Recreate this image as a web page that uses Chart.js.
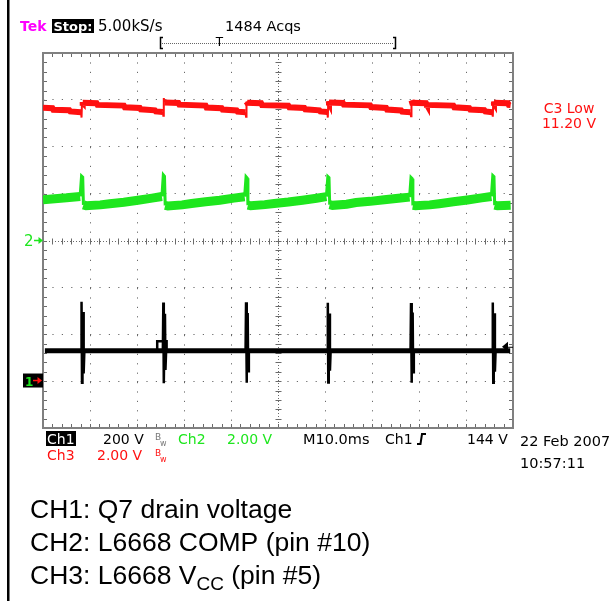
<!DOCTYPE html>
<html><head><meta charset="utf-8">
<script src="https://cdn.jsdelivr.net/npm/chart.js@4.4.1/dist/chart.umd.min.js"></script>
<style>html,body{margin:0;padding:0;background:#fff;}canvas{display:block;}</style>
</head><body>
<canvas id="c" width="611" height="601"></canvas>
<script>
// ---------------- DATA (time in ms, values in volts) ----------------
const ch1BaseTime  = [0.4, 99.4];
const ch1BaseVolts = [127, 127];

const ch1SpikeTime  = [8.1, 8.2, 8.3, 8.4, 8.55, 8.65, 8.8, 8.8,
                       24.3, 24.3, 26.3, 26.3, 26.3,
                       25.5, 25.6, 25.7, 25.8, 25.95, 26.05, 26.2, 26.2,
                       43.1, 43.2, 43.3, 43.4, 43.55, 43.65, 43.8, 43.8,
                       60.5, 60.6, 60.7, 60.8, 60.95, 61.05, 61.2, 61.2,
                       78.2, 78.3, 78.4, 78.5, 78.65, 78.75, 78.9, 78.9,
                       95.6, 95.7, 95.8, 95.9, 96.05, 96.15, 96.3];
const ch1SpikeVolts = [127, 336, -9, 127, 292, 30, 127, null,
                       127, 168, 168, 127, null,
                       127, 333, -12, 127, 285, 45, 127, null,
                       127, 334, -10, 127, 288, 40, 127, null,
                       127, 332, -8, 127, 286, 42, 127, null,
                       127, 331, -9, 127, 290, 35, 127, null,
                       127, 333, -10, 127, 287, 38, 127];

const ch2Time  = [0, 2.5, 5, 7.9, 8.2, 8.45, 8.6, 9.2, 12.2, 14.2, 17.2, 20.2, 23.2, 25.3,
                  25.6, 25.85, 26.0, 26.6, 29.6, 31.6, 34.6, 37.6, 40.6, 42.9,
                  43.2, 43.45, 43.6, 44.2, 47.2, 49.2, 52.2, 55.2, 58.2, 60.3,
                  60.6, 60.85, 61.0, 61.6, 64.6, 66.6, 69.6, 72.6, 75.6, 78.0,
                  78.3, 78.55, 78.7, 79.3, 82.3, 84.3, 87.3, 90.3, 93.3, 95.4,
                  95.7, 95.95, 96.1, 96.7, 99.5];
const ch2Volts = [1.74, 1.78, 1.82, 1.88, 2.75, 2.70, 1.52, 1.48, 1.52, 1.57, 1.63, 1.72, 1.81, 1.88,
                  2.80, 2.74, 1.50, 1.47, 1.52, 1.58, 1.65, 1.72, 1.81, 1.87,
                  2.72, 2.66, 1.51, 1.48, 1.53, 1.58, 1.64, 1.72, 1.80, 1.87,
                  2.73, 2.68, 1.53, 1.50, 1.55, 1.62, 1.67, 1.74, 1.80, 1.85,
                  2.69, 2.64, 1.50, 1.48, 1.52, 1.57, 1.65, 1.73, 1.82, 1.88,
                  2.77, 2.72, 1.51, 1.48, 1.50];

const ch3Time  = [0, 2.0, 2.2, 5.6, 5.8, 8.1,
                  8.2, 8.3, 8.45, 11.4, 11.6, 17.2, 17.4, 20.6, 20.8, 23.8, 24.0, 25.5,
                  25.6, 25.7, 25.85, 28.8, 29.0, 34.6, 34.8, 38.0, 38.2, 41.2, 41.4, 43.1,
                  43.2, 43.3, 43.45, 46.4, 46.6, 52.2, 52.4, 55.6, 55.8, 58.8, 59.0, 60.5,
                  60.6, 60.7, 60.85, 63.8, 64.0, 69.6, 69.8, 73.0, 73.2, 76.2, 76.4, 78.2,
                  78.3, 78.4, 78.55, 81.5, 81.7, 87.3, 87.5, 90.7, 90.9, 93.9, 94.1, 95.6,
                  95.7, 95.8, 95.95, 98.9, 99.1, 99.5];
const ch3Volts = [11.64, 11.62, 11.55, 11.53, 11.48, 11.45,
                  11.22, 11.88, 11.85, 11.83, 11.76, 11.73, 11.66, 11.63, 11.57, 11.53, 11.48, 11.46,
                  11.30, 12.05, 11.86, 11.84, 11.77, 11.73, 11.65, 11.62, 11.56, 11.52, 11.47, 11.45,
                  11.25, 11.90, 11.85, 11.83, 11.75, 11.72, 11.66, 11.63, 11.57, 11.53, 11.48, 11.46,
                  11.22, 11.92, 11.86, 11.84, 11.77, 11.74, 11.67, 11.63, 11.56, 11.52, 11.47, 11.45,
                  11.28, 11.95, 11.85, 11.83, 11.76, 11.73, 11.66, 11.62, 11.56, 11.53, 11.48, 11.45,
                  11.26, 11.90, 11.85, 11.83, 11.76, 11.75];

const captions = ['CH1: Q7 drain voltage', 'CH2: L6668 COMP (pin #10)'];

// ---------------- scope settings ----------------
const DIVS_X = 10, DIVS_Y = 8, MS_PER_DIV = 10;
const ch1 = {vpd: 200, gnd: -2.987};
const ch2 = {vpd: 2, gnd: 0};
const ch3 = {vpd: 2, gnd: -2.987};
const trigLevel = 144;
function axisFor(ch) { return {type: 'linear', display: false, min: (-DIVS_Y/2 - ch.gnd) * ch.vpd, max: (DIVS_Y/2 - ch.gnd) * ch.vpd}; }
const pts = (t, v) => t.map((x, i) => ({x: x, y: v[i]}));

const RED = '#ff1010', GREEN = '#1ee61e', MAG = '#ff00ff';
const SF = '"DejaVu Sans", "Liberation Sans", sans-serif';
const CF = '"Liberation Sans", Arial, Helvetica, sans-serif';

const gridCol = (n) => (c) => (c.index === 0 || c.index === n || c.index === n / 2) ? 'rgba(0,0,0,0)' : '#6a6a6a';

const decor = {
  id: 'decor',
  beforeDatasetsDraw(chart) {
    const {ctx, chartArea: a, scales} = chart;
    const xs = scales.x, ys = scales.yg;
    const px = v => Math.round(xs.getPixelForValue(v)) + 0.5;
    const py = v => Math.round(ys.getPixelForValue(v)) + 0.5;
    ctx.save();
    ctx.strokeStyle = '#6a6a6a'; ctx.lineWidth = 1;
    const cx = px(DIVS_X * MS_PER_DIV / 2), cy = py(0);
    ctx.setLineDash([1, 2]);
    ctx.beginPath(); ctx.moveTo(a.left, cy); ctx.lineTo(a.right, cy); ctx.moveTo(cx, a.top); ctx.lineTo(cx, a.bottom); ctx.stroke();
    ctx.setLineDash([]);
    ctx.beginPath();
    for (let i = 1; i < DIVS_X * 5; i++) {
      const x = px(i * MS_PER_DIV / 5);
      ctx.moveTo(x, cy - 3); ctx.lineTo(x, cy + 3);
      ctx.moveTo(x, a.top); ctx.lineTo(x, a.top + 4);
      ctx.moveTo(x, a.bottom); ctx.lineTo(x, a.bottom - 4);
    }
    for (let j = 1; j < DIVS_Y * 5; j++) {
      const y = py(-DIVS_Y / 2 + j / 5);
      ctx.moveTo(cx - 3, y); ctx.lineTo(cx + 3, y);
      ctx.moveTo(a.left, y); ctx.lineTo(a.left + 4, y);
      ctx.moveTo(a.right, y); ctx.lineTo(a.right - 4, y);
    }
    ctx.stroke();
    ctx.strokeStyle = '#808080'; ctx.lineWidth = 2;
    ctx.strokeRect(a.left, a.top, a.right - a.left, a.bottom - a.top);
    ctx.restore();
  },
  afterDraw(chart) {
    const {ctx, chartArea: a, scales} = chart;
    ctx.save();
    const T = (s, x, y, col, font, align) => { ctx.font = font; ctx.fillStyle = col; ctx.textAlign = align || 'left'; ctx.textBaseline = 'alphabetic'; ctx.fillText(s, x, y); };
    // left frame line
    ctx.fillStyle = '#000'; ctx.fillRect(7, 0, 2.5, 601);
    // top status line
    T('Tek', 20, 31, MAG, 'bold 14px ' + SF);
    ctx.fillStyle = '#000'; ctx.fillRect(52, 19, 42, 14);
    T('Stop:', 53.5, 31, '#fff', 'bold 13px ' + SF);
    T('5.00kS/s', 98, 31, '#000', '15px ' + SF);
    T('1484 Acqs', 225, 31, '#000', '14.5px ' + SF);
    // record view bar
    ctx.strokeStyle = '#000'; ctx.lineWidth = 1.5;
    ctx.beginPath();
    ctx.moveTo(163, 37.5); ctx.lineTo(160.5, 37.5); ctx.lineTo(160.5, 48.5); ctx.lineTo(163, 48.5);
    ctx.moveTo(393, 37.5); ctx.lineTo(395.5, 37.5); ctx.lineTo(395.5, 48.5); ctx.lineTo(393, 48.5);
    ctx.stroke();
    ctx.strokeStyle = '#666'; ctx.lineWidth = 1; ctx.setLineDash([1, 1]);
    ctx.beginPath(); ctx.moveTo(162, 43.5); ctx.lineTo(394, 43.5); ctx.stroke(); ctx.setLineDash([]);
    T('T', 219.5, 46, '#000', '12px ' + SF, 'center');
    // channel markers
    const g2 = scales.y2.getPixelForValue(0);
    T('2', 24, g2 + 5.5, GREEN, '15px ' + SF);
    ctx.strokeStyle = GREEN; ctx.fillStyle = GREEN; ctx.lineWidth = 1.5;
    ctx.beginPath(); ctx.moveTo(34, g2); ctx.lineTo(41, g2); ctx.stroke();
    ctx.beginPath(); ctx.moveTo(43, g2); ctx.lineTo(38.5, g2 - 3.5); ctx.lineTo(38.5, g2 + 3.5); ctx.closePath(); ctx.fill();
    const g1 = scales.y1.getPixelForValue(0);
    ctx.fillStyle = '#000'; ctx.fillRect(23, g1 - 7, 20, 14);
    T('1', 25, g1 + 5, GREEN, 'bold 12px ' + SF);
    ctx.strokeStyle = RED; ctx.fillStyle = RED; ctx.lineWidth = 1.5;
    ctx.beginPath(); ctx.moveTo(33, g1); ctx.lineTo(39, g1); ctx.stroke();
    ctx.beginPath(); ctx.moveTo(42, g1); ctx.lineTo(37.5, g1 - 3.5); ctx.lineTo(37.5, g1 + 3.5); ctx.closePath(); ctx.fill();
    // trigger level arrow
    const tl = scales.y1.getPixelForValue(trigLevel);
    ctx.fillStyle = '#000'; ctx.strokeStyle = '#000'; ctx.lineWidth = 1;
    ctx.beginPath(); ctx.moveTo(502, tl); ctx.lineTo(508, tl - 5); ctx.lineTo(508, tl + 5); ctx.closePath(); ctx.fill();
    ctx.beginPath(); ctx.moveTo(507, tl + 0.5); ctx.lineTo(a.right, tl + 0.5); ctx.stroke();
    // right readout
    T('C3 Low', 569, 113, RED, '14px ' + SF, 'center');
    T('11.20 V', 569, 128, RED, '14px ' + SF, 'center');
    // bottom readouts
    ctx.fillStyle = '#000'; ctx.fillRect(46, 431, 30, 15);
    T('Ch1', 47, 444, '#fff', '14px ' + SF);
    T('200 V', 103, 444, '#000', '14px ' + SF);
    T('B', 155, 440, '#777', '9px ' + SF); T('w', 160, 446, '#777', '8px ' + SF);
    T('Ch2', 178, 444, GREEN, '14px ' + SF);
    T('2.00 V', 227, 444, GREEN, '14px ' + SF);
    T('M10.0ms', 303, 444, '#000', '14.5px ' + SF);
    T('Ch1', 385, 444, '#000', '14px ' + SF);
    ctx.strokeStyle = '#000'; ctx.lineWidth = 2;
    ctx.beginPath(); ctx.moveTo(417, 444); ctx.lineTo(420.5, 444); ctx.lineTo(422, 434); ctx.lineTo(426, 434); ctx.stroke();
    T('144 V', 467, 444, '#000', '14px ' + SF);
    T('22 Feb 2007', 520, 446, '#000', '14.5px ' + SF);
    T('Ch3', 47, 460, RED, '14px ' + SF);
    T('2.00 V', 97, 460, RED, '14px ' + SF);
    T('B', 155, 456, RED, '9px ' + SF); T('w', 160, 462, RED, '8px ' + SF);
    T('10:57:11', 520, 468, '#000', '14.5px ' + SF);
    // captions
    const CS = '26.5px ' + CF;
    T(captions[0], 30, 518, '#000', CS);
    T(captions[1], 30, 551, '#000', CS);
    ctx.font = CS;
    const pre = 'CH3: L6668 V';
    T(pre, 30, 584, '#000', CS);
    let w = ctx.measureText(pre).width;
    ctx.font = '19px ' + CF;
    T('CC', 30 + w, 590, '#000', '19px ' + CF);
    w += ctx.measureText('CC').width;
    T(' (pin #5)', 30 + w, 584, '#000', CS);
    ctx.restore();
  }
};

new Chart(document.getElementById('c'), {
  type: 'line',
  data: {
    datasets: [
      {label: 'CH1', data: pts(ch1BaseTime, ch1BaseVolts), yAxisID: 'y1', borderColor: '#000', borderWidth: 5, pointRadius: 0, tension: 0},
      {label: 'CH1 spikes', data: pts(ch1SpikeTime, ch1SpikeVolts), yAxisID: 'y1', borderColor: '#000', borderWidth: 2.5, pointRadius: 0, tension: 0, spanGaps: false},
      {label: 'CH2', data: pts(ch2Time, ch2Volts), yAxisID: 'y2', borderColor: GREEN, borderWidth: 9, pointRadius: 0, tension: 0,
        segment: {borderWidth: c => (c.p0.parsed.y > 2.1 || c.p1.parsed.y > 2.1) ? 3 : undefined}},
      {label: 'CH3', data: pts(ch3Time, ch3Volts), yAxisID: 'y3', borderColor: RED, borderWidth: 6, pointRadius: 0, tension: 0,
        segment: {borderWidth: c => (c.p0.parsed.y < 11.35 || c.p1.parsed.y < 11.35 || c.p0.parsed.y > 11.95 || c.p1.parsed.y > 11.95) ? 2 : undefined}}
    ]
  },
  options: {
    responsive: false, animation: false, events: [],
    layout: {padding: {left: 43, top: 53, right: 98, bottom: 173}},
    plugins: {legend: {display: false}, tooltip: {enabled: false}},
    scales: {
      x: {type: 'linear', min: 0, max: DIVS_X * MS_PER_DIV, position: 'bottom',
          ticks: {display: false, stepSize: MS_PER_DIV}, border: {display: false, dash: [1.2, 8.2]},
          grid: {drawTicks: false, lineWidth: 1, color: gridCol(DIVS_X)}},
      yg: {type: 'linear', min: -DIVS_Y / 2, max: DIVS_Y / 2, position: 'left',
          ticks: {display: false, stepSize: 1}, border: {display: false, dash: [1.2, 8.2]},
          grid: {drawTicks: false, lineWidth: 1, color: gridCol(DIVS_Y)}},
      y1: axisFor(ch1), y2: axisFor(ch2), y3: axisFor(ch3)
    }
  },
  plugins: [decor]
});
</script>
</body></html>
